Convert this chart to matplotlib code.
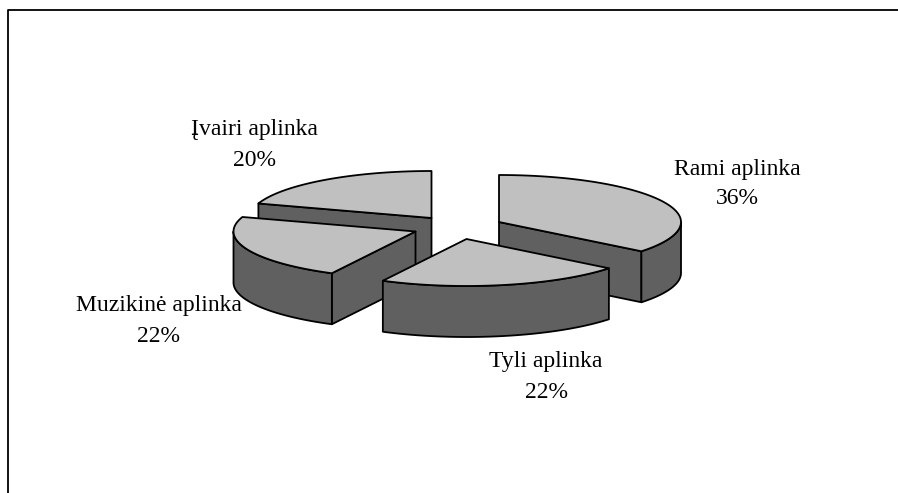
import matplotlib
matplotlib.use("Agg")
import matplotlib.pyplot as plt
import numpy as np
from matplotlib.patches import Polygon

categories = ["Rami aplinka", "Tyli aplinka", "Muzikinė aplinka", "Įvairi aplinka"]
# unrounded shares, labels show them rounded
shares = [35.7, 21.9, 22.4, 20.0]

# exploded slice apex positions, in image pixels
apex_x = [499, 466.5, 415.5, 431.5]
apex_y = [222, 239, 231.5, 218]
label_x = [737, 546, 159, 254]
label_y = [169, 362, 306, 130]

RX = 182
RY = 47
DEPTH = 51
TOP = "#c0c0c0"
SIDE = "#606060"
LW = 1.3


def arc(cx, cy, a1, a2):
    t = np.radians(np.linspace(a1, a2, 80))
    return np.column_stack([cx + RX * np.cos(t), cy - RY * np.sin(t)])


def shape(ax, pts, color, z):
    ax.add_patch(Polygon(pts, closed=True, facecolor=color, edgecolor="black",
                         linewidth=LW, joinstyle="round", zorder=z))


def draw_slice(ax, cx, cy, a1, a2, z):
    down = np.array([0, DEPTH])
    apex = np.array([cx, cy])

    # cut faces, only the ones turned to the viewer
    if np.cos(np.radians(a1)) < -1e-6:
        p = arc(cx, cy, a1, a1)[0]
        shape(ax, [apex, p, p + down, apex + down], SIDE, z)
    if np.cos(np.radians(a2)) > 1e-6:
        p = arc(cx, cy, a2, a2)[0]
        shape(ax, [apex, p, p + down, apex + down], SIDE, z)

    # outer wall, front half of the ellipse only
    for k in range(-1, 1):
        s = max(a2, -180 + 360 * k)
        e = min(a1, 360 * k)
        if e > s:
            top = arc(cx, cy, e, s)
            shape(ax, np.vstack([top, top[::-1] + down]), SIDE, z)

    shape(ax, np.vstack([apex, arc(cx, cy, a1, a2)]), TOP, z)


fig = plt.figure(figsize=(8.98, 4.93), dpi=100)
ax = fig.add_axes([0, 0, 1, 1])
ax.set_xlim(0, 898)
ax.set_ylim(493, 0)
ax.axis("off")

# border is only visible at the top and on the left
ax.plot([8, 8, 898], [493, 10, 10], color="black", linewidth=1.3)

starts = 90 - 3.6 * np.concatenate([[0], np.cumsum(shares)[:-1]])
ends = starts - 3.6 * np.array(shares)

# back slices first
for z, i in enumerate([3, 2, 0, 1]):
    draw_slice(ax, apex_x[i], apex_y[i], starts[i], ends[i], z + 2)

for name, val, x, y in zip(categories, shares, label_x, label_y):
    ax.text(x, y, name, ha="center", va="center",
            family="Liberation Serif", fontsize=17, zorder=10)
    ax.text(x, y + 30, f"{val:.0f}%", ha="center", va="center",
            family="Liberation Serif", fontsize=17, zorder=10)

fig.savefig("out.png", dpi=100)
